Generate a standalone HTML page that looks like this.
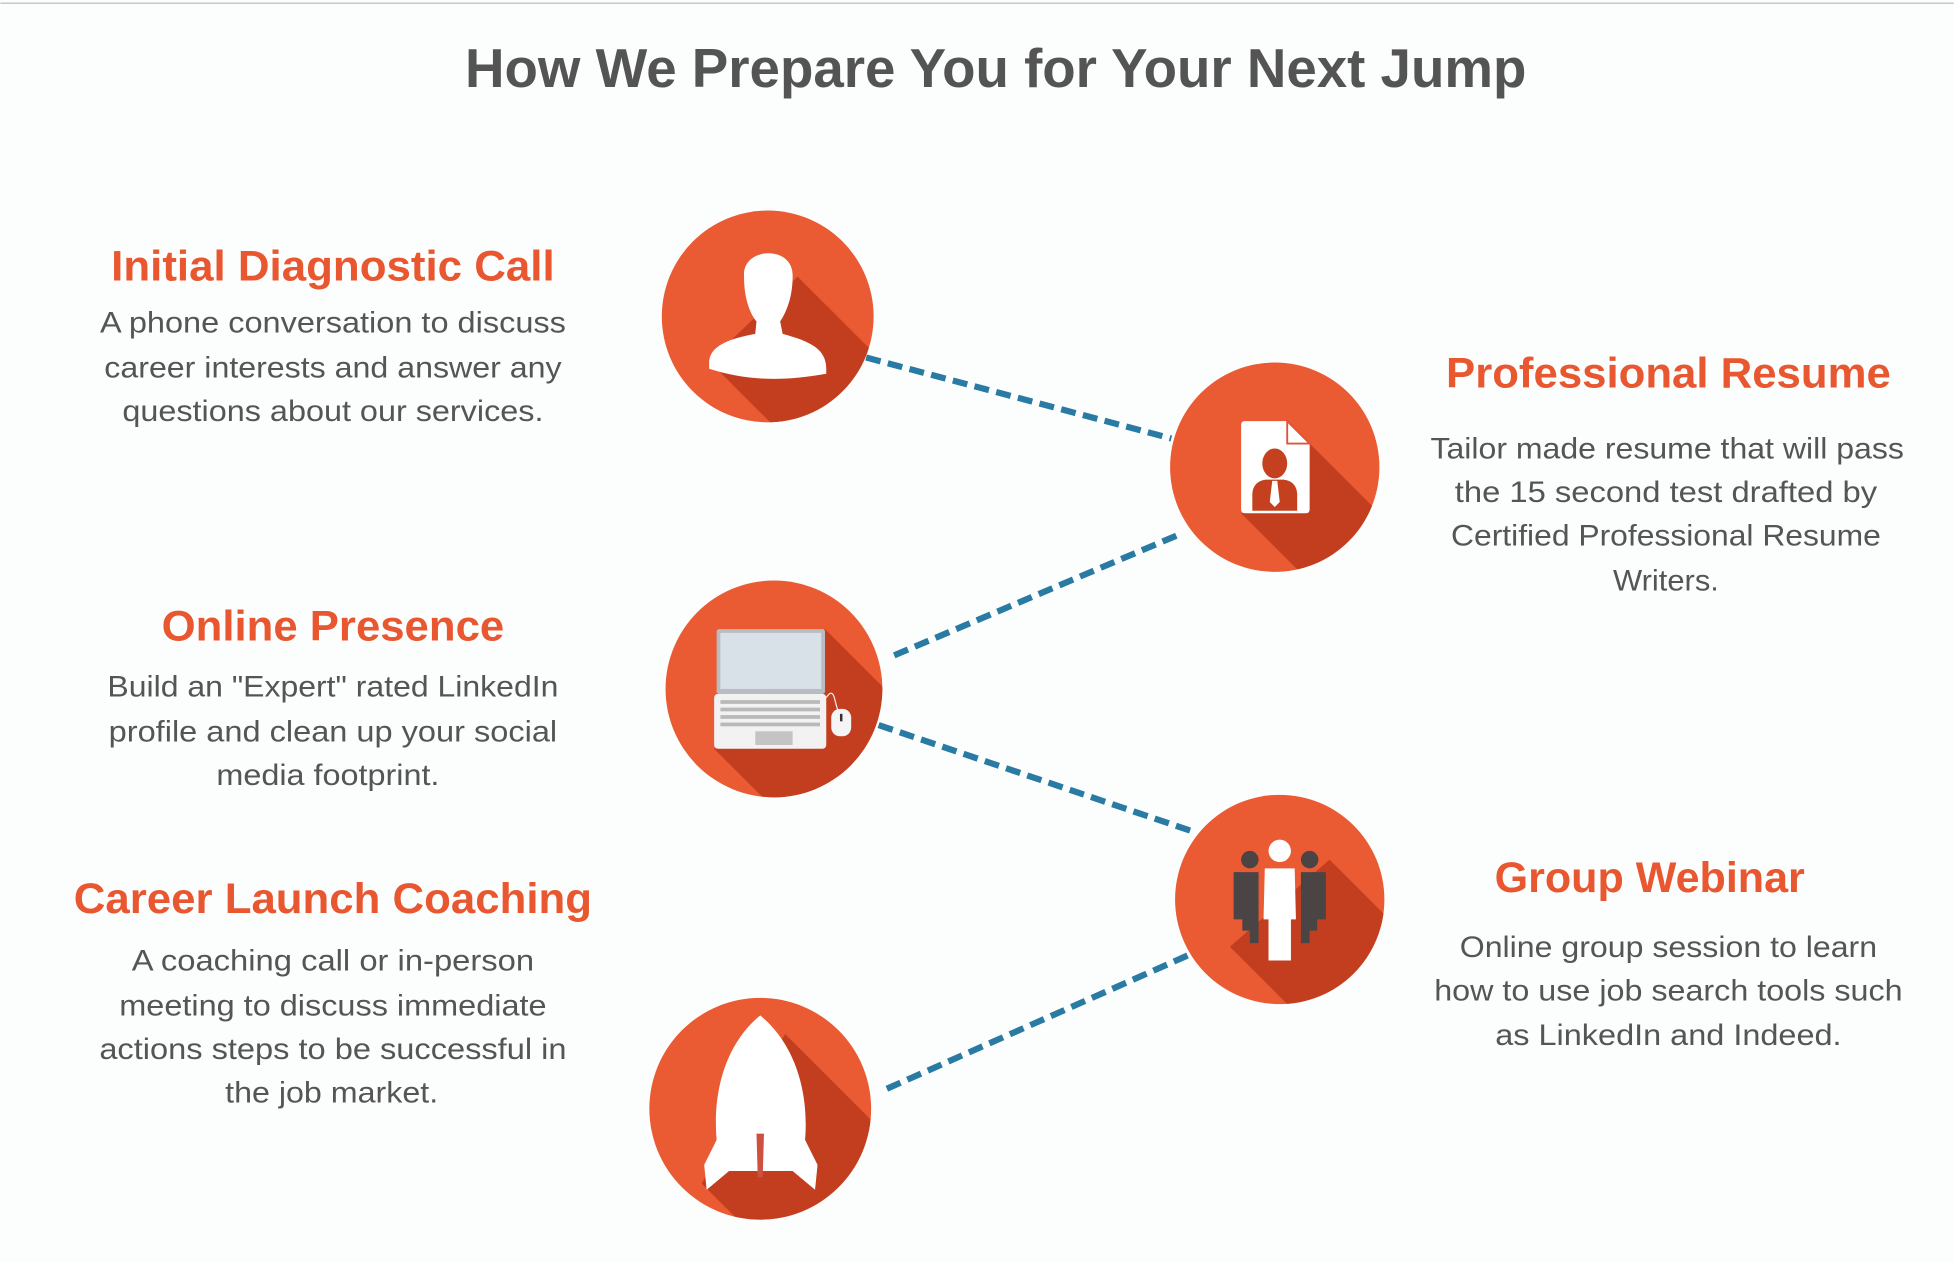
<!DOCTYPE html>
<html><head><meta charset="utf-8"><style>
html,body{margin:0;padding:0;background:#fcfdfd;width:1954px;height:1262px;overflow:hidden}
svg{display:block;overflow:hidden}
text{font-family:"Liberation Sans",sans-serif}
.h{fill:#e8572f;font-weight:bold;font-size:34px}
.t{fill:#555;font-size:24px}
</style></head><body>
<div style="width:1954px;height:1262px;overflow:hidden">
<svg width="1954" height="1262" viewBox="0 0 1568 1013" xmlns="http://www.w3.org/2000/svg">
<defs>
<clipPath id="c1"><circle cx="616" cy="254" r="85"/></clipPath>
<clipPath id="c2"><circle cx="1023" cy="375" r="84"/></clipPath>
<clipPath id="c3"><circle cx="621" cy="553" r="87"/></clipPath>
<clipPath id="c4"><circle cx="1027" cy="722" r="84"/></clipPath>
<clipPath id="c5"><circle cx="610" cy="890" r="89"/></clipPath>
</defs>
<rect width="1568" height="1013" fill="#fcfdfd"/>
<rect x="0" y="2" width="1568" height="1.2" fill="#c8c8c8"/>
<text x="799" y="70" text-anchor="middle" font-size="44" font-weight="bold" fill="#545454" textLength="852" lengthAdjust="spacingAndGlyphs">How We Prepare You for Your Next Jump</text>

<g stroke="#2a7ba3" stroke-width="5" stroke-dasharray="12 6" fill="none">
<line x1="695" y1="287" x2="940" y2="352"/>
<line x1="944" y1="430" x2="713" y2="528"/>
<line x1="705" y1="582" x2="956" y2="667"/>
<line x1="953" y1="767" x2="707" y2="876"/>
</g>

<g>
<circle cx="616" cy="254" r="85" fill="#ea5a33"/>
<polygon clip-path="url(#c1)" points="640,222 940,522 869,590 569,290" fill="#c23e1f"/>
<path d="M597,222 C595,198 637,196 636,222 C636,240 630,252 626,258 L628,268 C650,274 663,280 663,296 L663,300 C630,306 600,306 569,296 L569,290 C570,278 584,272 606,268 L607,258 C602,252 597,240 597,222 Z" fill="#fff"/>
</g>
<g>
<circle cx="1023" cy="375" r="84" fill="#ea5a33"/>
<polygon clip-path="url(#c2)" points="1050,355 1350,655 1296,712 996,412" fill="#c23e1f"/>
<path d="M999,338 L1033,338 L1051,356 L1051,409 Q1051,412 1048,412 L999,412 Q996,412 996,409 L996,341 Q996,338 999,338 Z" fill="#fff"/>
<path d="M1033,338 L1033,356 L1051,356 Z" fill="#fff" stroke="#e0533a" stroke-width="1.5"/>
<ellipse cx="1023" cy="372" rx="10" ry="12" fill="#c5401f"/>
<path d="M1005,410 L1005,396 Q1006,386 1016,385 L1030,385 Q1040,386 1041,396 L1041,410 Z" fill="#c5401f"/>
<path d="M1021,386 L1025,386 L1027,403 L1023,407 L1019,403 Z" fill="#fff"/>
</g>
<g>
<circle cx="621" cy="553" r="87" fill="#ea5a33"/>
<polygon clip-path="url(#c3)" points="662,505 962,805 873,901 573,601" fill="#c23e1f"/>
<rect x="575" y="505" width="87" height="52" rx="2" fill="#b9bcc0"/>
<rect x="578" y="508" width="81" height="45" fill="#d9e1e8"/>
<rect x="573" y="557" width="90" height="44" rx="3" fill="#f2f2f2"/>
<g fill="#b9b9b9">
<rect x="578" y="562" width="80" height="3"/><rect x="578" y="568" width="80" height="3"/>
<rect x="578" y="574" width="80" height="3"/><rect x="578" y="580" width="80" height="3"/>
</g>
<rect x="606" y="587" width="30" height="11" fill="#c4c4c4"/>
<path d="M663,560 Q668,552 670,562 Q672,570 673,572" stroke="#eee" stroke-width="1" fill="none"/>
<rect x="667" y="569" width="16" height="22" rx="7" fill="#f5f5f5"/>
<rect x="674" y="573" width="2" height="6" fill="#333"/>
</g>
<g>
<circle cx="1027" cy="722" r="84" fill="#ea5a33"/>
<polygon clip-path="url(#c4)" points="1067,690 1367,990 1287,1060 987,760" fill="#c23e1f"/>
<circle cx="1003" cy="690" r="7" fill="#4a4444"/>
<circle cx="1051" cy="690" r="7" fill="#4a4444"/>
<path d="M990,700 L1010,700 L1010,757 L1003,757 L1003,747 L997,747 L997,738 L990,738 Z" fill="#4a4444"/>
<path d="M1064,700 L1044,700 L1044,757 L1051,757 L1051,747 L1057,747 L1057,738 L1064,738 Z" fill="#4a4444"/>
<circle cx="1027" cy="683" r="9" fill="#fff"/>
<path d="M1015,697 L1039,697 L1040,738 L1036,738 L1036,771 L1018,771 L1018,738 L1014,738 Z" fill="#fff"/>
</g>
<g>
<circle cx="610" cy="890" r="89" fill="#ea5a33"/>
<polygon clip-path="url(#c5)" points="630,830 930,1130 863,1250 563,950" fill="#c23e1f"/>
<path d="M610,815 C580,840 572,880 575,915 L565,935 L567,955 L585,940 L636,940 L654,955 L656,935 L646,915 C649,880 640,840 610,815 Z" fill="#fff"/>
<path d="M607,910 L613,910 L612,945 L608,945 Z" fill="#d05040"/>
</g>

<g text-anchor="middle">
<text class="h" x="267" y="225" textLength="356" lengthAdjust="spacingAndGlyphs">Initial Diagnostic Call</text>
<text class="t" x="267" y="267" textLength="374" lengthAdjust="spacingAndGlyphs">A phone conversation to discuss</text>
<text class="t" x="267" y="303" textLength="367" lengthAdjust="spacingAndGlyphs">career interests and answer any</text>
<text class="t" x="267" y="338" textLength="338" lengthAdjust="spacingAndGlyphs">questions about our services.</text>
</g>
<g text-anchor="middle">
<text class="h" x="267" y="514" textLength="275" lengthAdjust="spacingAndGlyphs">Online Presence</text>
<text class="t" x="267" y="559" textLength="362" lengthAdjust="spacingAndGlyphs">Build an "Expert" rated LinkedIn</text>
<text class="t" x="267" y="595" textLength="360" lengthAdjust="spacingAndGlyphs">profile and clean up your social</text>
<text class="t" x="263" y="630" textLength="179" lengthAdjust="spacingAndGlyphs">media footprint.</text>
</g>
<g text-anchor="middle">
<text class="h" x="267" y="733" textLength="416" lengthAdjust="spacingAndGlyphs">Career Launch Coaching</text>
<text class="t" x="267" y="779" textLength="323" lengthAdjust="spacingAndGlyphs">A coaching call or in-person</text>
<text class="t" x="267" y="815" textLength="343" lengthAdjust="spacingAndGlyphs">meeting to discuss immediate</text>
<text class="t" x="267" y="850" textLength="375" lengthAdjust="spacingAndGlyphs">actions steps to be successful in</text>
<text class="t" x="266" y="885" textLength="171" lengthAdjust="spacingAndGlyphs">the job market.</text>
</g>
<g text-anchor="middle">
<text class="h" x="1339" y="311" textLength="357" lengthAdjust="spacingAndGlyphs">Professional Resume</text>
<text class="t" x="1338" y="368" textLength="380" lengthAdjust="spacingAndGlyphs">Tailor made resume that will pass</text>
<text class="t" x="1337" y="403" textLength="339" lengthAdjust="spacingAndGlyphs">the 15 second test drafted by</text>
<text class="t" x="1337" y="438" textLength="345" lengthAdjust="spacingAndGlyphs">Certified Professional Resume</text>
<text class="t" x="1337" y="474" textLength="85" lengthAdjust="spacingAndGlyphs">Writers.</text>
</g>
<g text-anchor="middle">
<text class="h" x="1324" y="716" textLength="249" lengthAdjust="spacingAndGlyphs">Group Webinar</text>
<text class="t" x="1339" y="768" textLength="335" lengthAdjust="spacingAndGlyphs">Online group session to learn</text>
<text class="t" x="1339" y="803" textLength="376" lengthAdjust="spacingAndGlyphs">how to use job search tools such</text>
<text class="t" x="1339" y="839" textLength="278" lengthAdjust="spacingAndGlyphs">as LinkedIn and Indeed.</text>
</g>
</svg>
</div>
</body></html>
